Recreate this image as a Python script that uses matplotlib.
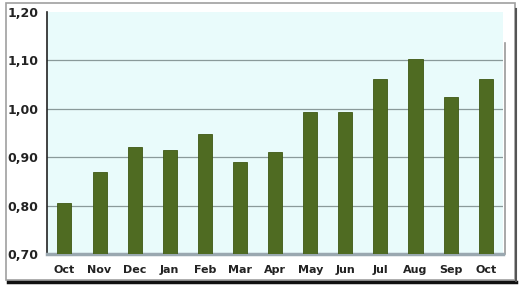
import matplotlib
matplotlib.use('Agg')
import matplotlib.pyplot as plt
from matplotlib.patches import Rectangle

months = ['Oct', 'Nov', 'Dec', 'Jan', 'Feb', 'Mar', 'Apr', 'May', 'Jun', 'Jul', 'Aug', 'Sep', 'Oct']
values = [0.806, 0.869, 0.921, 0.915, 0.948, 0.890, 0.910, 0.993, 0.994, 1.061, 1.104, 1.025, 1.062]
yticks = [0.70, 0.80, 0.90, 1.00, 1.10, 1.20]

fig = plt.figure(figsize=(5.21, 2.88), dpi=100)
fig.patch.set_facecolor('white')

# outer frame with shadow, kept behind the axes
fig.add_artist(Rectangle((0.012, 0.028), 0.977, 0.96, transform=fig.transFigure,
                         facecolor='white', edgecolor='#a0a0a0', lw=1.2, zorder=-2))
fig.add_artist(plt.Line2D([0.016, 0.99], [0.022, 0.022], transform=fig.transFigure,
                          color='#111111', lw=2.5, zorder=-1))
fig.add_artist(plt.Line2D([0.991, 0.991], [0.025, 0.97], transform=fig.transFigure,
                          color='#555555', lw=1.5, zorder=-1))
# faint shadow at the right of the plot area
fig.add_artist(plt.Line2D([0.970, 0.970], [0.118, 0.85], transform=fig.transFigure,
                          color='#9a9a9a', lw=1.2, zorder=-1))

ax = fig.add_axes([0.090, 0.118, 0.876, 0.840])
ax.set_zorder(1)
ax.set_facecolor('#e9fbfb')
x = range(len(months))
ax.bar(x, values, width=0.4, color='#4f6b22', edgecolor='#3e5814', lw=0.6, zorder=3)

ax.set_ylim(0.70, 1.20)
ax.set_xlim(-0.5, len(months) - 0.5)
ax.set_yticks(yticks)
ax.set_yticklabels([('%.2f' % v).replace('.', ',') for v in yticks],
                   fontsize=9, fontweight='bold', color='#222222')
ax.set_xticks(list(x))
ax.set_xticklabels(months, fontsize=8, fontweight='bold', color='#222222')
ax.tick_params(length=0, pad=6)
ax.tick_params(axis='x', pad=8)
for v in yticks[1:-1]:
    ax.axhline(v, color='#8a9a9a', lw=0.9, zorder=1)

for s in ['top', 'right']:
    ax.spines[s].set_visible(False)
ax.spines['left'].set_color('#222222')
ax.spines['left'].set_linewidth(1.2)
ax.spines['bottom'].set_color('#9aa8b0')
ax.spines['bottom'].set_linewidth(2.5)

fig.savefig('out.png', dpi=100)
